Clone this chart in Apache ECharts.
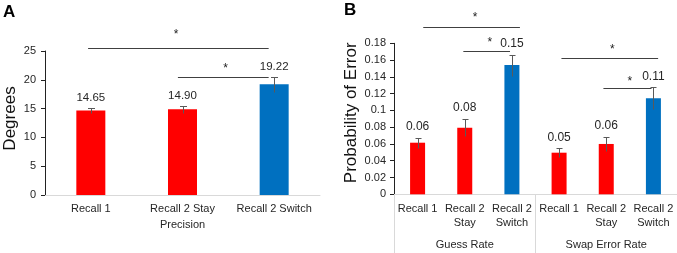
<!DOCTYPE html>
<html>
<head>
<meta charset="utf-8">
<script src="https://cdn.jsdelivr.net/npm/echarts@6/dist/echarts.min.js"></script>
<style>
html,body{margin:0;padding:0;background:#fff;}
#chart{width:677px;height:253px;}
</style>
</head>
<body>
<div id="chart"></div>
<script>
// ---------- data ----------
const catsA = ['Recall 1', 'Recall 2 Stay', 'Recall 2 Switch'];
const valsA = [14.65, 14.90, 19.22];
const errA = [0.5, 0.6, 1.32];
const ticksA = [0, 5, 10, 15, 20, 25];

const catsB = ['Recall 1', 'Recall 2\nStay', 'Recall 2\nSwitch', 'Recall 1', 'Recall 2\nStay', 'Recall 2\nSwitch'];
const groupsB = ['Guess Rate', 'Swap Error Rate'];
const valsB = [0.0615, 0.0794, 0.154, 0.0496, 0.060, 0.1144];
const errB = [0.0060, 0.0102, 0.0125, 0.0052, 0.0084, 0.0131];
const ticksB = [0, 0.02, 0.04, 0.06, 0.08, 0.1, 0.12, 0.14, 0.16, 0.18];

// significance brackets: [fromCat, toCat, lineValue, starCat, starValue]
const sigA = [
  [-0.03, 1.94, 25.47, 0.93, 28.35],
  [0.95, 1.94, 20.54, 1.47, 22.45]
];
const sigB = [
  [0.12, 2.17, 0.1991, 1.22, 0.2137],
  [0.97, 1.96, 0.1708, 1.53, 0.1839],
  [3.05, 5.10, 0.1621, 4.13, 0.1760],
  [3.94, 4.96, 0.1264, 4.50, 0.1383]
];

// ---------- styles ----------
const RED = '#FF0000', BLUE = '#0070C0';
const FONT = 'Liberation Sans, Arial, sans-serif';
const TXT = '#262626';
const colorFor = i => (i % 3 === 2 ? BLUE : RED);

function errRender(capHalf, fontSize, labelGap) {
  return function (params, api) {
    const i = api.value(0), v = api.value(1), e = api.value(2);
    const top = api.coord([i, v + e]);
    const bot = api.coord([i, v - e]);
    const x = Math.round(top[0]) + 0.5;
    const ty = Math.round(top[1]) + 0.5, by = Math.round(bot[1]) + 0.5;
    const st = { stroke: '#595959', lineWidth: 1 };
    return {
      type: 'group',
      children: [
        { type: 'line', shape: { x1: x, y1: ty, x2: x, y2: by }, style: st },
        { type: 'line', shape: { x1: x - capHalf, y1: ty, x2: x + capHalf, y2: ty }, style: st },
        { type: 'text', x: top[0], y: top[1] - labelGap,
          style: { text: v.toFixed(2), fontSize: fontSize, fontFamily: FONT, fill: TXT,
                   align: 'center', verticalAlign: 'middle' } }
      ]
    };
  };
}

function sigRender(params, api) {
  const x1 = api.value(0), x2 = api.value(1), y = api.value(2), sx = api.value(3), sy = api.value(4);
  const base = api.coord([0, y]);
  const band = api.size([1, 0])[0];
  const ly = Math.round(base[1]) + 0.5;
  const sp = api.coord([0, sy]);
  return {
    type: 'group',
    children: [
      { type: 'line', shape: { x1: base[0] + x1 * band, y1: ly, x2: base[0] + x2 * band, y2: ly },
        style: { stroke: '#404040', lineWidth: 1 } },
      { type: 'text', x: base[0] + sx * band, y: sp[1] + 3,
        style: { text: '*', fontSize: 12, fontFamily: FONT, fill: '#222',
                 align: 'center', verticalAlign: 'middle' } }
    ]
  };
}

const chart = echarts.init(document.getElementById('chart'), null, { renderer: 'canvas' });

const yAxisCommon = {
  axisLine: { show: true, lineStyle: { color: '#222', width: 1 } },
  axisTick: { show: true, length: 4, lineStyle: { color: '#222' } },
  splitLine: { show: false },
  nameLocation: 'middle',
  nameRotate: 90
};

const option = {
  animation: false,
  textStyle: { fontFamily: FONT },
  graphic: [
    { type: 'text', left: 3, top: 4, style: { text: 'A', fontSize: 17, fontWeight: 'bold', fontFamily: FONT, fill: '#000' } },
    { type: 'text', left: 344, top: 2, style: { text: 'B', fontSize: 17, fontWeight: 'bold', fontFamily: FONT, fill: '#000' } }
  ],
  grid: [
    { left: 45, top: 51, width: 275, height: 144 },
    { left: 394, top: 43.3, width: 283, height: 151 }
  ],
  xAxis: [
    { type: 'category', gridIndex: 0, data: catsA,
      name: 'Precision', nameLocation: 'middle', nameGap: 24,
      nameTextStyle: { fontSize: 11, fontFamily: FONT, color: TXT },
      axisLine: { lineStyle: { color: '#d9d9d9' } },
      axisTick: { show: false },
      axisLabel: { fontSize: 11, color: TXT, margin: 8, fontFamily: FONT, interval: 0, hideOverlap: false } },
    { type: 'category', gridIndex: 1, data: catsB,
      axisLine: { lineStyle: { color: '#d9d9d9' } },
      axisTick: { show: false },
      axisLabel: { fontSize: 11, color: TXT, margin: 8, lineHeight: 14, fontFamily: FONT, interval: 0 } },
    { type: 'category', gridIndex: 1, data: groupsB, position: 'bottom', offset: 0,
      axisLine: { show: false },
      axisTick: { show: true, length: 60, lineStyle: { color: '#d9d9d9' } },
      axisLabel: { fontSize: 11, color: TXT, margin: 44, lineHeight: 14, fontFamily: FONT, interval: 0 } }
  ],
  yAxis: [
    Object.assign({}, yAxisCommon, { type: 'value', gridIndex: 0, min: ticksA[0], max: ticksA[ticksA.length - 1],
      interval: ticksA[1] - ticksA[0], name: 'Degrees', nameGap: 26,
      nameTextStyle: { fontSize: 17, fontFamily: FONT, color: '#111', padding: [0, 0, 0, 9] },
      axisLabel: { fontSize: 11, color: TXT, margin: 9, fontFamily: FONT } }),
    Object.assign({}, yAxisCommon, { type: 'value', gridIndex: 1, min: ticksB[0], max: ticksB[ticksB.length - 1],
      interval: ticksB[1] - ticksB[0], name: 'Probability of Error', nameGap: 34,
      nameTextStyle: { fontSize: 17, fontFamily: FONT, color: '#111', padding: [0, 0, 0, 12] },
      axisLabel: { fontSize: 11, color: TXT, margin: 8, fontFamily: FONT,
                   formatter: v => String(parseFloat(v.toFixed(4))) } })
  ],
  series: [
    { type: 'bar', xAxisIndex: 0, yAxisIndex: 0, barWidth: 29,
      data: valsA.map((v, i) => ({ value: v, itemStyle: { color: colorFor(i) } })) },
    { type: 'custom', xAxisIndex: 0, yAxisIndex: 0, z: 5,
      data: valsA.map((v, i) => [i, v, errA[i]]), renderItem: errRender(3.5, 11.5, 10) },
    { type: 'custom', xAxisIndex: 0, yAxisIndex: 0, z: 5,
      data: sigA, renderItem: sigRender },
    { type: 'bar', xAxisIndex: 1, yAxisIndex: 1, barWidth: 15,
      data: valsB.map((v, i) => ({ value: v, itemStyle: { color: colorFor(i) } })) },
    { type: 'custom', xAxisIndex: 1, yAxisIndex: 1, z: 5,
      data: valsB.map((v, i) => [i, v, errB[i]]), renderItem: errRender(3, 12, 11) },
    { type: 'custom', xAxisIndex: 1, yAxisIndex: 1, z: 5,
      data: sigB, renderItem: sigRender }
  ]
};
chart.setOption(option);
</script>
</body>
</html>
